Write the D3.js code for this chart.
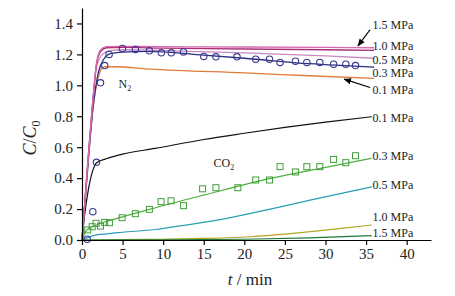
<!DOCTYPE html>
<html>
<head>
<meta charset="utf-8">
<script src="https://cdn.jsdelivr.net/npm/d3@7"></script>
<style>
  body { margin: 0; background: #fff; }
  svg text { font-family: "Liberation Serif", serif; fill: #222; }
</style>
</head>
<body>
<div id="chart"></div>
<script>
// N2 model curves (pressure -> [t, C/C0])
const n2Pressures = ["1.5 MPa", "1.0 MPa", "0.5 MPa", "0.3 MPa", "0.1 MPa"];
const n2Colors = ["#d868b0", "#a63078", "#c68ac0", "#2c2e7e", "#e07b39"];
const n2Curves = [
  [[0,0],[0.6,0.42],[1.35,0.91],[1.8,1.15],[2.3,1.23],[3,1.25],[5,1.252],[10,1.25],[20,1.248],[30,1.245],[36,1.243]],
  [[0,0],[0.6,0.42],[1.35,0.91],[1.8,1.14],[2.3,1.22],[3,1.243],[5,1.245],[10,1.24],[20,1.235],[30,1.23],[36,1.226]],
  [[0,0],[0.6,0.42],[1.35,0.9],[1.8,1.12],[2.5,1.2],[3.5,1.225],[5,1.23],[10,1.225],[20,1.21],[30,1.19],[36,1.175]],
  [[0,0],[0.6,0.4],[1.35,0.85],[2,1.08],[2.7,1.17],[3.5,1.205],[5,1.215],[8,1.22],[15,1.195],[20,1.175],[28,1.14],[36,1.118]],
  [[0,0],[0.6,0.4],[1.35,0.85],[2,1.05],[2.7,1.12],[4,1.12],[8.4,1.105],[20,1.08],[28,1.062],[36,1.045]]
];
// N2 measured points
const n2Points = [
  [2.28,1.016],[2.8,1.128],[3.34,1.2],[4.98,1.238],[6.58,1.232],[8.3,1.223],[9.78,1.21],
  [11.0,1.21],[12.5,1.216],[15.0,1.187],[16.5,1.184],[19.1,1.184],[21.4,1.169],[23.1,1.169],
  [24.4,1.148],[26.3,1.156],[27.7,1.148],[29.3,1.148],[31.0,1.137],[32.5,1.137],[33.7,1.128]
];

// CO2 model curves
const co2Pressures = ["0.1 MPa", "0.3 MPa", "0.5 MPa", "1.0 MPa", "1.5 MPa"];
const co2Colors = ["#111111", "#4fae3f", "#2a9fb5", "#b5a523", "#1f7a3a"];
const co2Curves = [
  [[0,0],[0.3,0.15],[0.8,0.33],[1.33,0.45],[1.8,0.5],[3,0.525],[5,0.555],[9,0.592],[15,0.65],[20,0.69],[25,0.728],[30,0.762],[35.7,0.797]],
  [[0,0],[0.6,0.065],[1.5,0.09],[2.3,0.108],[4,0.135],[8.3,0.198],[15,0.29],[23.2,0.398],[30,0.47],[35.7,0.528]],
  [[0,0],[0.5,0.012],[1.5,0.03],[3,0.04],[5,0.05],[9,0.068],[13,0.098],[18.3,0.145],[23.2,0.2],[28.1,0.258],[35.7,0.344]],
  [[0,0],[5,0.002],[10,0.005],[15,0.01],[20.7,0.021],[25,0.038],[28.1,0.054],[32,0.075],[35.7,0.097]],
  [[0,0],[10,0.001],[20,0.005],[28,0.014],[35.7,0.028]]
];
// CO2 measured points: squares (0.3 MPa) and circles (0.1 MPa)
const co2Squares = [
  [0.71,0.065],[1.25,0.086],[1.74,0.108],[2.28,0.09],[2.8,0.114],[3.38,0.112],[4.94,0.144],
  [6.58,0.17],[8.3,0.198],[9.74,0.248],[10.97,0.254],[12.5,0.222],[14.86,0.331],[16.5,0.338],
  [19.2,0.338],[21.4,0.388],[23.1,0.388],[24.4,0.474],[26.3,0.44],[27.7,0.474],[29.3,0.474],
  [31.0,0.521],[32.5,0.5],[33.7,0.545]
];
const co2Circles = [[0.64,0.005],[1.33,0.183],[1.78,0.502]];

// right-hand labels: C/C0 level of each label centre
const n2LabelLevels = [1.389, 1.256, 1.167, 1.078, 0.969];
const co2LabelLevels = [0.788, 0.543, 0.355, 0.15, 0.047];
const labelT = 35.8;
// arrows [from, to] in data units
const arrows = [
  [[35.5,1.36],[34.0,1.255]],
  [[35.5,0.986],[32.3,1.04]]
];

const xTicks = [0, 5, 10, 15, 20, 25, 30, 35, 40];
const yTicks = [0, 0.2, 0.4, 0.6, 0.8, 1.0, 1.2, 1.4];

const W = 455, H = 296;
const margin = { top: 8, right: 24, bottom: 56, left: 82 };
const serif = "'Liberation Serif', serif";

const svg = d3.select("#chart").append("svg")
  .attr("width", W).attr("height", H)
  .attr("font-family", serif);

const x = d3.scaleLinear().domain([0, 43]).range([margin.left, W - margin.right]);
const y = d3.scaleLinear().domain([0, 1.5]).range([H - margin.bottom, margin.top]);

const line = d3.line()
  .x(d => x(d[0]))
  .y(d => y(d[1]))
  .curve(d3.curveMonotoneX);

// CO2 curves first (beneath)
co2Curves.forEach((c, i) => {
  svg.append("path").datum(c)
    .attr("d", line).attr("fill", "none")
    .attr("stroke", co2Colors[i]).attr("stroke-width", 1.2);
});
// N2 curves, draw lowest first
for (let i = n2Curves.length - 1; i >= 0; i--) {
  svg.append("path").datum(n2Curves[i])
    .attr("d", line).attr("fill", "none")
    .attr("stroke", n2Colors[i]).attr("stroke-width", 1.3);
}

// markers
svg.selectAll("circle.n2").data(n2Points.concat(co2Circles)).join("circle")
  .attr("class", "n2")
  .attr("cx", d => x(d[0])).attr("cy", d => y(d[1]))
  .attr("r", 3.2).attr("fill", "none")
  .attr("stroke", "#3a3a92").attr("stroke-width", 1.1);

svg.selectAll("rect.co2").data(co2Squares).join("rect")
  .attr("class", "co2")
  .attr("x", d => x(d[0]) - 3).attr("y", d => y(d[1]) - 3)
  .attr("width", 6).attr("height", 6)
  .attr("fill", "none").attr("stroke", "#3f9e3a").attr("stroke-width", 1);

// axes
const xAxis = svg.append("g")
  .attr("transform", `translate(0,${y(0)})`)
  .call(d3.axisBottom(x).tickValues(xTicks).tickSize(5).tickSizeOuter(0).tickPadding(3));
const yAxis = svg.append("g")
  .attr("transform", `translate(${x(0)},0)`)
  .call(d3.axisLeft(y).tickValues(yTicks).tickFormat(d3.format(".1f")).tickSize(5).tickSizeOuter(0).tickPadding(4));

[xAxis, yAxis].forEach(g => {
  g.attr("font-family", serif).attr("font-size", 15);
  g.selectAll("path, line").attr("stroke", "#000").attr("stroke-width", 1.2);
  g.selectAll("text").attr("fill", "#222");
});

// axis titles
const xt = svg.append("text")
  .attr("x", x(20.7)).attr("y", 285)
  .attr("text-anchor", "middle").attr("font-size", 17);
xt.append("tspan").attr("font-style", "italic").text("t");
xt.append("tspan").text(" / min");

const yt = svg.append("text")
  .attr("transform", `translate(36,${y(0.66)}) rotate(-90)`)
  .attr("text-anchor", "middle").attr("font-size", 18);
yt.append("tspan").attr("font-style", "italic").text("C");
yt.append("tspan").text("/");
yt.append("tspan").attr("font-style", "italic").text("C");
yt.append("tspan").attr("font-size", 12).attr("dy", 4).text("0");

// gas labels
const n2t = svg.append("text").attr("x", x(4.5)).attr("y", y(0.985)).attr("font-size", 12);
n2t.append("tspan").text("N");
n2t.append("tspan").attr("font-size", 8).attr("dy", 3).text("2");

const co2t = svg.append("text").attr("x", x(16.2)).attr("y", y(0.47)).attr("font-size", 12);
co2t.append("tspan").text("CO");
co2t.append("tspan").attr("font-size", 8).attr("dy", 3).text("2");

// pressure labels
n2Pressures.forEach((p, i) => {
  svg.append("text").attr("x", x(labelT)).attr("y", y(n2LabelLevels[i]))
    .attr("dy", "0.35em").attr("font-size", 12).text(p);
});
co2Pressures.forEach((p, i) => {
  svg.append("text").attr("x", x(labelT)).attr("y", y(co2LabelLevels[i]))
    .attr("dy", "0.35em").attr("font-size", 12).text(p);
});

// arrows
svg.append("defs").append("marker")
  .attr("id", "ah").attr("viewBox", "0 0 10 10")
  .attr("refX", 9).attr("refY", 5)
  .attr("markerWidth", 7).attr("markerHeight", 7)
  .attr("orient", "auto")
  .append("path").attr("d", "M0,1 L10,5 L0,9 Z").attr("fill", "#000");

arrows.forEach(a => {
  svg.append("line")
    .attr("x1", x(a[0][0])).attr("y1", y(a[0][1]))
    .attr("x2", x(a[1][0])).attr("y2", y(a[1][1]))
    .attr("stroke", "#000").attr("stroke-width", 1.1)
    .attr("marker-end", "url(#ah)");
});
</script>
</body>
</html>
